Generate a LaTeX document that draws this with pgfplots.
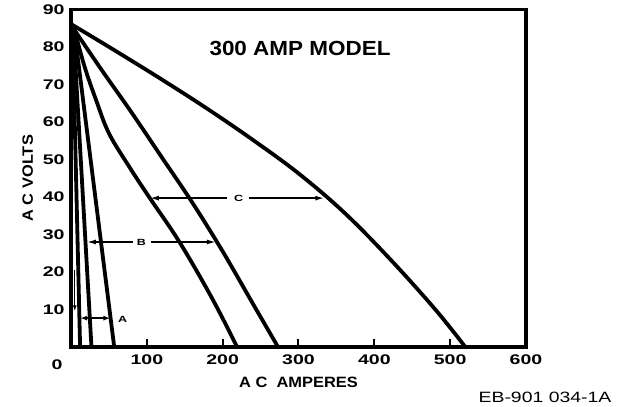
\documentclass[border=0pt]{standalone}
\usepackage{fontspec}
\setmainfont{Liberation Sans}
\newfontfamily\widefont[FakeStretch=1.4]{Liberation Sans}
\newfontfamily\labfont[FakeStretch=1.1]{Liberation Sans}
\newfontfamily\ebfont[FakeStretch=1.3]{Liberation Sans}
\usepackage{pgfplots}
\pgfplotsset{compat=1.18}
\usetikzlibrary{arrows.meta}
\begin{document}
\begin{tikzpicture}
\path[use as bounding box] (-71bp,-60bp) rectangle (563bp,347bp);
\begin{axis}[
  at={(0,0)}, anchor=south west, scale only axis,
  width=455bp, height=337.5bp,
  xmin=0, xmax=600, ymin=0, ymax=90,
  axis line style={line width=3.5bp, black},
  xtick={100,200,300,400,500,600},
  xticklabels={100,200,300,400,500,600},
  ytick={10,20,30,40,50,60,70,80,90},
  yticklabels={10,20,30,40,50,60,70,80,90},
  xtick pos=bottom, ytick pos=left,
  tick align=inside,
  major tick length=8bp,
  x tick style={line width=2bp, black},
  y tick style={draw=none},
  ticklabel style={font=\widefont\bfseries\fontsize{14}{14}\selectfont},
  xticklabel style={yshift=-4bp},
  yticklabel style={xshift=-3bp},
  xlabel={A C\ \ AMPERES},
  ylabel={A C VOLTS},
  label style={font=\labfont\bfseries\fontsize{15}{15}\selectfont},
  xlabel style={at={(axis description cs:0.5,-0.104)}, anchor=center},
  ylabel style={at={(axis description cs:-0.095,0.5)}, anchor=center},
  curve/.style={line width=3.8bp, black, mark=none, line join=round},
]
% curve 1
\addplot[curve] coordinates {(2,85) (12,0)};
% curve 2
\addplot[curve] coordinates {(3,85) (27,0)};
% curve 3
\addplot[curve] coordinates {(4,85) (57,0)};
% curve 4
\addplot[curve, smooth, tension=0.6] coordinates {(4,85) (18,74.7) (33,65.9) (50,57) (77,48) (103,40) (143,28) (186,13) (219,0)};
% curve 5
\addplot[curve, smooth, tension=0.6] coordinates {(3,85) (40,74) (80,62.5) (120,50.5) (160,38.5) (200,25.5) (240,11.5) (273,0)};
% curve 6
\addplot[curve, smooth, tension=0.6] coordinates {(1,86) (60,78.8) (120,71.3) (180,63.5) (240,55.2) (300,46.3) (360,35.9) (420,23.6) (480,10.1) (520,0)};

\node[font=\labfont\bfseries\fontsize{20.5}{20.5}\selectfont] at (axis cs:302,79.7) {300 AMP MODEL};

% dimension arrows
\draw[line width=1.5bp, {Latex[length=9bp,width=5bp]}-] (axis cs:104,39.7) -- (axis cs:206,39.7);
\draw[line width=1.5bp, -{Latex[length=9bp,width=5bp]}] (axis cs:235,39.7) -- (axis cs:334,39.7);
\node[font=\widefont\bfseries\fontsize{9}{9}\selectfont] at (axis cs:221,39.7) {C};
\draw[line width=1.5bp, {Latex[length=9bp,width=5bp]}-] (axis cs:21,28) -- (axis cs:82,28);
\draw[line width=1.5bp, -{Latex[length=9bp,width=5bp]}] (axis cs:105,28) -- (axis cs:191,28);
\node[font=\widefont\bfseries\fontsize{9}{9}\selectfont] at (axis cs:93,28) {B};
\draw[line width=1.5bp, {Latex[length=7bp,width=5bp]}-{Latex[length=7bp,width=5bp]}] (axis cs:12,7.7) -- (axis cs:52,7.7);
\node[font=\widefont\bfseries\fontsize{9}{9}\selectfont] at (axis cs:68,7.3) {A};
\draw[line width=1.2bp, -{Latex[length=6bp,width=4bp]}] (axis cs:5,20.5) -- (axis cs:5,9.5);
\end{axis}
\node[font=\widefont\bfseries\fontsize{14}{14}\selectfont] at (-14bp,-18bp) {0};
\node[font=\ebfont\fontsize{15}{15}\selectfont] at (474bp,-50bp) {EB-901 034-1A};
\end{tikzpicture}
\end{document}
